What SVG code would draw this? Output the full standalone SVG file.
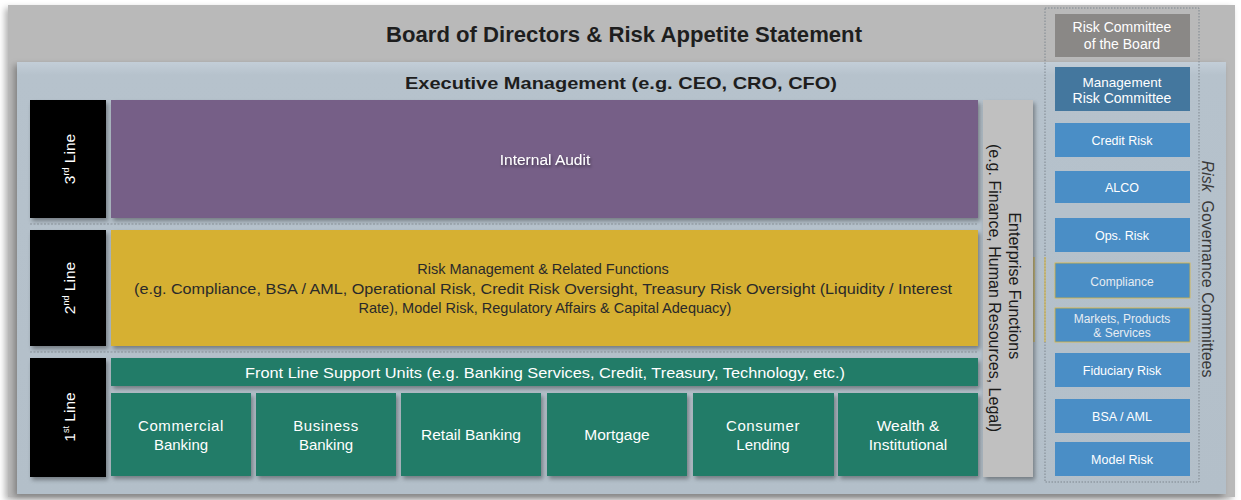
<svg xmlns="http://www.w3.org/2000/svg" width="1241" height="500" viewBox="0 0 1241 500">
  <defs>
    <filter id="shadow" x="-10%" y="-10%" width="130%" height="140%">
      <feDropShadow dx="2" dy="3" stdDeviation="2" flood-color="#000" flood-opacity="0.35"/>
    </filter>
    <filter id="panelShadow" x="-5%" y="-5%" width="110%" height="110%">
      <feDropShadow dx="-3" dy="3" stdDeviation="3" flood-color="#000" flood-opacity="0.3"/>
    </filter>
    <filter id="glow" x="-10%" y="-30%" width="120%" height="160%">
      <feDropShadow dx="1" dy="2" stdDeviation="1.5" flood-color="#000" flood-opacity="0.45"/>
    </filter>
    <linearGradient id="execGrad" x1="0" y1="0" x2="0" y2="1">
      <stop offset="0" stop-color="#c3ced8"/>
      <stop offset="0.03" stop-color="#b6c2cc"/>
      <stop offset="1" stop-color="#b3bfc9"/>
    </linearGradient>
  </defs>
  <style>
    .lbl { font-family: "Liberation Sans", Arial, sans-serif; }
    .white { fill: #ffffff; }
    .dark { fill: #1e1e1e; }
    .lineTag { fill: #000000; }
    .unit { fill: #217c68; }
    .comm { fill: #4a8ec6; }
    .sep { stroke: #8a939b; stroke-width: 1; stroke-dasharray: 2 1.5; fill: none; }
  </style>

  <!-- Board of Directors panel -->
  <g id="board">
    <rect x="8" y="5" width="1227" height="492" fill="#b9b9b9" filter="url(#panelShadow)"/>
    <text class="lbl dark" x="624" y="42" font-size="22" font-weight="bold" text-anchor="middle" textLength="476" lengthAdjust="spacingAndGlyphs">Board of Directors &amp; Risk Appetite Statement</text>
  </g>

  <!-- Executive Management panel -->
  <g id="executive">
    <rect x="17" y="62" width="1209" height="432" fill="url(#execGrad)" filter="url(#panelShadow)"/>
    <text class="lbl dark" x="621" y="89" font-size="17" font-weight="bold" text-anchor="middle" textLength="432" lengthAdjust="spacingAndGlyphs">Executive Management (e.g. CEO, CRO, CFO)</text>
  </g>

  <!-- Separators between the lines of defence, committee frame -->
  <g id="connectors">
    <line class="sep" x1="30" y1="224" x2="978" y2="224"/>
    <line class="sep" x1="30" y1="352" x2="978" y2="352"/>
    <rect x="1045" y="8" width="154" height="474" fill="none" stroke="#7e878f" stroke-width="1" stroke-dasharray="1.5 1.5"/>
    <line x1="1045" y1="257" x2="1045" y2="342" stroke="#d9b53a" stroke-width="1"/>
    <line x1="1034" y1="257" x2="1034" y2="342" stroke="#d9b53a" stroke-width="1"/>
  </g>

  <!-- Line labels -->
  <g id="line3">
    <rect class="lineTag" x="30" y="100" width="76" height="118" filter="url(#shadow)"/>
    <text class="lbl white" font-size="15.5" text-anchor="middle" transform="translate(75,159) rotate(-90)">3<tspan font-size="9" dy="-6">rd</tspan><tspan dy="6"> Line</tspan></text>
  </g>
  <g id="line2">
    <rect class="lineTag" x="30" y="230" width="76" height="116" filter="url(#shadow)"/>
    <text class="lbl white" font-size="15.5" text-anchor="middle" transform="translate(75,288) rotate(-90)">2<tspan font-size="9" dy="-6">nd</tspan><tspan dy="6"> Line</tspan></text>
  </g>
  <g id="line1">
    <rect class="lineTag" x="30" y="358" width="76" height="119" filter="url(#shadow)"/>
    <text class="lbl white" font-size="15.5" text-anchor="middle" transform="translate(75,417) rotate(-90)">1<tspan font-size="9" dy="-6">st</tspan><tspan dy="6"> Line</tspan></text>
  </g>

  <!-- 3rd line: Internal Audit -->
  <g id="internal-audit">
    <rect x="111" y="100" width="867" height="118" fill="#765f87" filter="url(#shadow)"/>
    <text class="lbl white" x="545" y="165" font-size="15.5" text-anchor="middle" filter="url(#glow)">Internal Audit</text>
  </g>

  <!-- 2nd line: Risk Management -->
  <g id="risk-management">
    <rect x="111" y="230" width="867" height="116" fill="#d6b030" filter="url(#shadow)"/>
    <text class="lbl" fill="#2a2a2a" font-size="14.5" text-anchor="middle">
      <tspan x="545" y="274">Risk Management &amp; Related Functions</tspan>
      <tspan x="545" y="294" textLength="818" lengthAdjust="spacingAndGlyphs">(e.g. Compliance, BSA / AML, Operational Risk, Credit Risk Oversight, Treasury Risk Oversight (Liquidity / Interest</tspan>
      <tspan x="545" y="313">Rate), Model Risk, Regulatory Affairs &amp; Capital Adequacy)</tspan>
    </text>
  </g>

  <!-- 1st line: support and business units -->
  <g id="front-line-support">
    <rect class="unit" x="111" y="358" width="867" height="28" filter="url(#shadow)"/>
    <text class="lbl white" x="545" y="378" font-size="15.5" text-anchor="middle" textLength="600" lengthAdjust="spacingAndGlyphs">Front Line Support Units (e.g. Banking Services, Credit, Treasury, Technology, etc.)</text>
  </g>
  <g id="commercial-banking">
    <rect class="unit" x="111" y="393" width="140" height="83" filter="url(#shadow)"/>
    <text class="lbl white" font-size="15" text-anchor="middle"><tspan x="181" y="431" letter-spacing="0.6">Commercial</tspan><tspan x="181" y="450">Banking</tspan></text>
  </g>
  <g id="business-banking">
    <rect class="unit" x="256" y="393" width="140" height="83" filter="url(#shadow)"/>
    <text class="lbl white" font-size="15" text-anchor="middle"><tspan x="326" y="431" letter-spacing="0.6">Business</tspan><tspan x="326" y="450">Banking</tspan></text>
  </g>
  <g id="retail-banking">
    <rect class="unit" x="401" y="393" width="140" height="83" filter="url(#shadow)"/>
    <text class="lbl white" x="471" y="440" font-size="15.5" text-anchor="middle">Retail Banking</text>
  </g>
  <g id="mortgage">
    <rect class="unit" x="547" y="393" width="140" height="83" filter="url(#shadow)"/>
    <text class="lbl white" x="617" y="440" font-size="15.5" text-anchor="middle">Mortgage</text>
  </g>
  <g id="consumer-lending">
    <rect class="unit" x="693" y="393" width="141" height="83" filter="url(#shadow)"/>
    <text class="lbl white" font-size="15" text-anchor="middle"><tspan x="763" y="431" letter-spacing="0.6">Consumer</tspan><tspan x="763" y="450">Lending</tspan></text>
  </g>
  <g id="wealth-institutional">
    <rect class="unit" x="838" y="393" width="140" height="83" filter="url(#shadow)"/>
    <text class="lbl white" font-size="15.5" text-anchor="middle"><tspan x="908" y="431">Wealth &amp;</tspan><tspan x="908" y="450">Institutional</tspan></text>
  </g>

  <!-- Enterprise Functions -->
  <g id="enterprise-functions">
    <rect x="983" y="100" width="50" height="377" fill="#c0c0c0" filter="url(#shadow)"/>
    <text class="lbl" fill="#1a1a1a" font-size="16" text-anchor="middle" transform="translate(1008,288) rotate(90)">
      <tspan x="0" y="-1">Enterprise Functions</tspan>
      <tspan x="0" y="19">(e.g. Finance, Human Resources, Legal)</tspan>
    </text>
  </g>

  <!-- Risk Governance Committees -->
  <g id="risk-governance-committees">
    <text class="lbl" fill="#3a3a3a" font-size="16" text-anchor="middle" transform="translate(1202,269) rotate(90)" xml:space="preserve"><tspan font-style="italic">Risk</tspan>  Governance Committees</text>
  </g>
  <g id="risk-committee-board">
    <rect x="1055" y="14" width="135" height="43" fill="#8a8886"/>
    <text class="lbl white" font-size="14" text-anchor="middle"><tspan x="1122" y="32">Risk Committee</tspan><tspan x="1122" y="49">of the Board</tspan></text>
  </g>
  <g id="management-risk-committee">
    <rect x="1055" y="67" width="135" height="44" fill="#44779e"/>
    <text class="lbl white" font-size="13.5" text-anchor="middle"><tspan x="1122" y="87">Management</tspan><tspan x="1122" y="103" font-size="14">Risk Committee</tspan></text>
  </g>
  <g id="credit-risk">
    <rect class="comm" x="1055" y="123" width="135" height="34"/>
    <text class="lbl white" x="1122" y="145" font-size="12.5" text-anchor="middle">Credit Risk</text>
  </g>
  <g id="alco">
    <rect class="comm" x="1055" y="171" width="135" height="32"/>
    <text class="lbl white" x="1122" y="192" font-size="12.5" text-anchor="middle">ALCO</text>
  </g>
  <g id="ops-risk">
    <rect class="comm" x="1055" y="218" width="135" height="34"/>
    <text class="lbl white" x="1122" y="240" font-size="12.5" text-anchor="middle">Ops. Risk</text>
  </g>
  <g id="compliance">
    <rect class="comm" x="1055" y="263" width="135" height="35" stroke="#d9b53a" stroke-width="0.8"/>
    <text class="lbl" fill="#e6ecf2" x="1122" y="286" font-size="12" text-anchor="middle">Compliance</text>
  </g>
  <g id="markets-products-services">
    <rect class="comm" x="1055" y="308" width="135" height="34" stroke="#d9b53a" stroke-width="0.8"/>
    <text class="lbl" fill="#e6ecf2" font-size="12" text-anchor="middle"><tspan x="1122" y="323">Markets, Products</tspan><tspan x="1122" y="337">&amp; Services</tspan></text>
  </g>
  <g id="fiduciary-risk">
    <rect class="comm" x="1055" y="353" width="135" height="34"/>
    <text class="lbl white" x="1122" y="375" font-size="12.5" text-anchor="middle">Fiduciary Risk</text>
  </g>
  <g id="bsa-aml">
    <rect class="comm" x="1055" y="399" width="135" height="34"/>
    <text class="lbl white" x="1122" y="421" font-size="12.5" text-anchor="middle">BSA / AML</text>
  </g>
  <g id="model-risk">
    <rect class="comm" x="1055" y="442" width="135" height="34"/>
    <text class="lbl white" x="1122" y="464" font-size="12.5" text-anchor="middle">Model Risk</text>
  </g>
</svg>
